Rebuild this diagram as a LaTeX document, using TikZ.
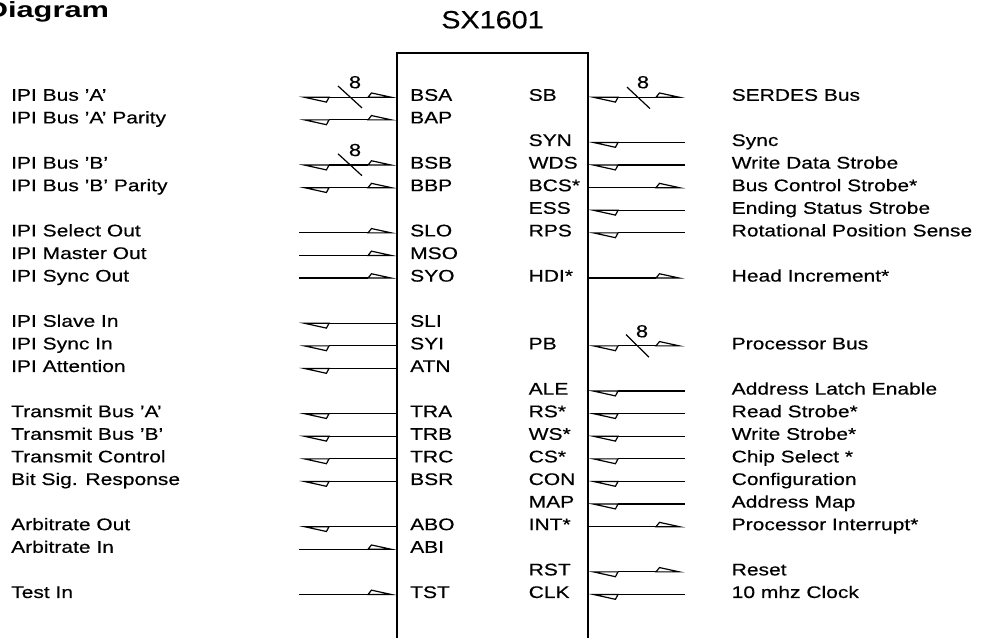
\documentclass[tikz,border=0pt]{standalone}
\usepackage{fontspec}
\setmainfont{Liberation Sans}[FakeStretch=1.25,FakeBold=0.4]
\newfontfamily\chipfont{Liberation Sans}[FakeStretch=1.15,FakeBold=0.3]
\newfontfamily\headfont{Liberation Sans}[FakeStretch=1.4]
\usetikzlibrary{arrows.meta}

\begin{document}
\begin{tikzpicture}[x=1pt,y=-22.6pt]
  \tikzset{pinwire/.style={draw=black,line width=1.2pt}}
  \tikzset{pointw/.style={pinwire,{Kite[open,left,length=28pt,width=11pt,inset=3pt]}-}}
  \tikzset{pointe/.style={pinwire,-{Kite[open,left,length=27pt,width=10pt,inset=4pt]}}}
  \tikzset{pointwe/.style={pinwire,{Kite[open,left,length=28pt,width=11pt,inset=3pt]}-{Kite[open,left,length=27pt,width=10pt,inset=4pt]}}}
  \tikzset{busslash/.style={draw=black,line width=1.2pt}}
  \tikzset{chipedge/.style={draw=black,line width=2.2pt}}
  \tikzset{pinlabel/.style={font=\fontsize{16.8pt}{20pt}\selectfont,anchor=base west,inner sep=0pt,yshift=-3.5pt}}
  \tikzset{buswidth/.style={font=\fontsize{17.5pt}{20pt}\selectfont,anchor=base,inner sep=0pt}}
  \useasboundingbox (0,-4.305) rectangle (983,23.925);
  \node[font=\headfont\bfseries\fontsize{22pt}{26pt}\selectfont,anchor=base west,inner sep=0pt] (head) at (-14.4,-3.54) {Diagram};
  \node[font=\chipfont\fontsize{25pt}{30pt}\selectfont,anchor=base,inner sep=0pt] (chipname) at (492.5,-3.05) {SX1601};
  \draw[chipedge] (397,24.5) -- (397,-1.96) -- (588,-1.96) -- (588,24.5);
  \coordinate (BSAx) at (299,0);  \coordinate (BSA) at (397,0);
  \coordinate (BAPx) at (299,1);  \coordinate (BAP) at (397,1);
  \coordinate (BSBx) at (299,3);  \coordinate (BSB) at (397,3);
  \coordinate (BBPx) at (299,4);  \coordinate (BBP) at (397,4);
  \coordinate (SLOx) at (299,6);  \coordinate (SLO) at (397,6);
  \coordinate (MSOx) at (299,7);  \coordinate (MSO) at (397,7);
  \coordinate (SYOx) at (299,8);  \coordinate (SYO) at (397,8);
  \coordinate (SLIx) at (299,10); \coordinate (SLI) at (397,10);
  \coordinate (SYIx) at (299,11); \coordinate (SYI) at (397,11);
  \coordinate (ATNx) at (299,12); \coordinate (ATN) at (397,12);
  \coordinate (TRAx) at (299,14); \coordinate (TRA) at (397,14);
  \coordinate (TRBx) at (299,15); \coordinate (TRB) at (397,15);
  \coordinate (TRCx) at (299,16); \coordinate (TRC) at (397,16);
  \coordinate (BSRx) at (299,17); \coordinate (BSR) at (397,17);
  \coordinate (ABOx) at (299,19); \coordinate (ABO) at (397,19);
  \coordinate (ABIx) at (299,20); \coordinate (ABI) at (397,20);
  \coordinate (TSTx) at (299,22); \coordinate (TST) at (397,22);
  \coordinate (SB) at (588,0);    \coordinate (SBx) at (685,0);
  \coordinate (SYN) at (588,2);   \coordinate (SYNx) at (685,2);
  \coordinate (WDS) at (588,3);   \coordinate (WDSx) at (685,3);
  \coordinate (BCS) at (588,4);   \coordinate (BCSx) at (685,4);
  \coordinate (ESS) at (588,5);   \coordinate (ESSx) at (685,5);
  \coordinate (RPS) at (588,6);   \coordinate (RPSx) at (685,6);
  \coordinate (HDI) at (588,8);   \coordinate (HDIx) at (685,8);
  \coordinate (PB) at (588,11);   \coordinate (PBx) at (685,11);
  \coordinate (ALE) at (588,13);  \coordinate (ALEx) at (685,13);
  \coordinate (RS) at (588,14);   \coordinate (RSx) at (685,14);
  \coordinate (WS) at (588,15);   \coordinate (WSx) at (685,15);
  \coordinate (CS) at (588,16);   \coordinate (CSx) at (685,16);
  \coordinate (CON) at (588,17);  \coordinate (CONx) at (685,17);
  \coordinate (MAP) at (588,18);  \coordinate (MAPx) at (685,18);
  \coordinate (INT) at (588,19);  \coordinate (INTx) at (685,19);
  \coordinate (RST) at (588,21);  \coordinate (RSTx) at (685,21);
  \coordinate (CLK) at (588,22);  \coordinate (CLKx) at (685,22);
  \draw[pointwe] (BSAx) -- (BSA);
  \draw[pointwe] (BAPx) -- (BAP);
  \draw[pointwe] (BSBx) -- (BSB);
  \draw[pointwe] (BBPx) -- (BBP);
  \draw[pointe] (SLOx) -- (SLO);
  \draw[pointe] (MSOx) -- (MSO);
  \draw[pointe] (SYOx) -- (SYO);
  \draw[pointw] (SLIx) -- (SLI);
  \draw[pointw] (SYIx) -- (SYI);
  \draw[pointw] (ATNx) -- (ATN);
  \draw[pointw] (TRAx) -- (TRA);
  \draw[pointw] (TRBx) -- (TRB);
  \draw[pointw] (TRCx) -- (TRC);
  \draw[pointw] (BSRx) -- (BSR);
  \draw[pointw] (ABOx) -- (ABO);
  \draw[pointe] (ABIx) -- (ABI);
  \draw[pointe] (TSTx) -- (TST);
  \draw[pointwe] (SB) -- (SBx);
  \draw[pointw] (SYN) -- (SYNx);
  \draw[pointw] (WDS) -- (WDSx);
  \draw[pointe] (BCS) -- (BCSx);
  \draw[pointw] (ESS) -- (ESSx);
  \draw[pointw] (RPS) -- (RPSx);
  \draw[pointe] (HDI) -- (HDIx);
  \draw[pointwe] (PB) -- (PBx);
  \draw[pointw] (ALE) -- (ALEx);
  \draw[pointw] (RS) -- (RSx);
  \draw[pointw] (WS) -- (WSx);
  \draw[pointw] (CS) -- (CSx);
  \draw[pointw] (CON) -- (CONx);
  \draw[pointw] (MAP) -- (MAPx);
  \draw[pointe] (INT) -- (INTx);
  \draw[pointwe] (RST) -- (RSTx);
  \draw[pointw] (CLK) -- (CLKx);
  \draw[busslash] (338,-0.5) -- (362,0.47);
  \node[buswidth] (wBSA) at (355,-0.4) {8};
  \draw[busslash] (338,2.5) -- (362,3.47);
  \node[buswidth] (wBSB) at (355,2.6) {8};
  \draw[busslash] (627,-0.45) -- (650,0.5);
  \node[buswidth] (wSB) at (643,-0.4) {8};
  \draw[busslash] (626,10.5) -- (649,11.5);
  \node[buswidth] (wPB) at (642,10.62) {8};
  \node[pinlabel] (tBSA) at (11,0) {IPI Bus 'A'};
  \node[pinlabel] (tBAP) at (11,1) {IPI Bus 'A' Parity};
  \node[pinlabel] (tBSB) at (11,3) {IPI Bus 'B'};
  \node[pinlabel] (tBBP) at (11,4) {IPI Bus 'B' Parity};
  \node[pinlabel] (tSLO) at (11,6) {IPI Select Out};
  \node[pinlabel] (tMSO) at (11,7) {IPI Master Out};
  \node[pinlabel] (tSYO) at (11,8) {IPI Sync Out};
  \node[pinlabel] (tSLI) at (11,10) {IPI Slave In};
  \node[pinlabel] (tSYI) at (11,11) {IPI Sync In};
  \node[pinlabel] (tATN) at (11,12) {IPI Attention};
  \node[pinlabel] (tTRA) at (11,14) {Transmit Bus 'A'};
  \node[pinlabel] (tTRB) at (11,15) {Transmit Bus 'B'};
  \node[pinlabel] (tTRC) at (11,16) {Transmit Control};
  \node[pinlabel] (tBSR) at (11,17) {Bit Sig. Response};
  \node[pinlabel] (tABO) at (11,19) {Arbitrate Out};
  \node[pinlabel] (tABI) at (11,20) {Arbitrate In};
  \node[pinlabel] (tTST) at (11,22) {Test In};
  \node[pinlabel] (lBSA) at (410,0) {BSA};
  \node[pinlabel] (lBAP) at (410,1) {BAP};
  \node[pinlabel] (lBSB) at (410,3) {BSB};
  \node[pinlabel] (lBBP) at (410,4) {BBP};
  \node[pinlabel] (lSLO) at (410,6) {SLO};
  \node[pinlabel] (lMSO) at (410,7) {MSO};
  \node[pinlabel] (lSYO) at (410,8) {SYO};
  \node[pinlabel] (lSLI) at (410,10) {SLI};
  \node[pinlabel] (lSYI) at (410,11) {SYI};
  \node[pinlabel] (lATN) at (410,12) {ATN};
  \node[pinlabel] (lTRA) at (410,14) {TRA};
  \node[pinlabel] (lTRB) at (410,15) {TRB};
  \node[pinlabel] (lTRC) at (410,16) {TRC};
  \node[pinlabel] (lBSR) at (410,17) {BSR};
  \node[pinlabel] (lABO) at (410,19) {ABO};
  \node[pinlabel] (lABI) at (410,20) {ABI};
  \node[pinlabel] (lTST) at (410,22) {TST};
  \node[pinlabel] (lSB) at (528.5,0) {SB};
  \node[pinlabel] (lSYN) at (528.5,2) {SYN};
  \node[pinlabel] (lWDS) at (528.5,3) {WDS};
  \node[pinlabel] (lBCS) at (528.5,4) {BCS*};
  \node[pinlabel] (lESS) at (528.5,5) {ESS};
  \node[pinlabel] (lRPS) at (528.5,6) {RPS};
  \node[pinlabel] (lHDI) at (528.5,8) {HDI*};
  \node[pinlabel] (lPB) at (528.5,11) {PB};
  \node[pinlabel] (lALE) at (528.5,13) {ALE};
  \node[pinlabel] (lRS) at (528.5,14) {RS*};
  \node[pinlabel] (lWS) at (528.5,15) {WS*};
  \node[pinlabel] (lCS) at (528.5,16) {CS*};
  \node[pinlabel] (lCON) at (528.5,17) {CON};
  \node[pinlabel] (lMAP) at (528.5,18) {MAP};
  \node[pinlabel] (lINT) at (528.5,19) {INT*};
  \node[pinlabel] (lRST) at (528.5,21) {RST};
  \node[pinlabel] (lCLK) at (528.5,22) {CLK};
  \node[pinlabel] (tSB) at (731.5,0) {SERDES Bus};
  \node[pinlabel] (tSYN) at (731.5,2) {Sync};
  \node[pinlabel] (tWDS) at (731.5,3) {Write Data Strobe};
  \node[pinlabel] (tBCS) at (731.5,4) {Bus Control Strobe*};
  \node[pinlabel] (tESS) at (731.5,5) {Ending Status Strobe};
  \node[pinlabel] (tRPS) at (731.5,6) {Rotational Position Sense};
  \node[pinlabel] (tHDI) at (731.5,8) {Head Increment*};
  \node[pinlabel] (tPB) at (731.5,11) {Processor Bus};
  \node[pinlabel] (tALE) at (731.5,13) {Address Latch Enable};
  \node[pinlabel] (tRS) at (731.5,14) {Read Strobe*};
  \node[pinlabel] (tWS) at (731.5,15) {Write Strobe*};
  \node[pinlabel] (tCS) at (731.5,16) {Chip Select *};
  \node[pinlabel] (tCON) at (731.5,17) {Configuration};
  \node[pinlabel] (tMAP) at (731.5,18) {Address Map};
  \node[pinlabel] (tINT) at (731.5,19) {Processor Interrupt*};
  \node[pinlabel] (tRST) at (731.5,21) {Reset};
  \node[pinlabel] (tCLK) at (731.5,22) {10 mhz Clock};
\end{tikzpicture}
\end{document}
